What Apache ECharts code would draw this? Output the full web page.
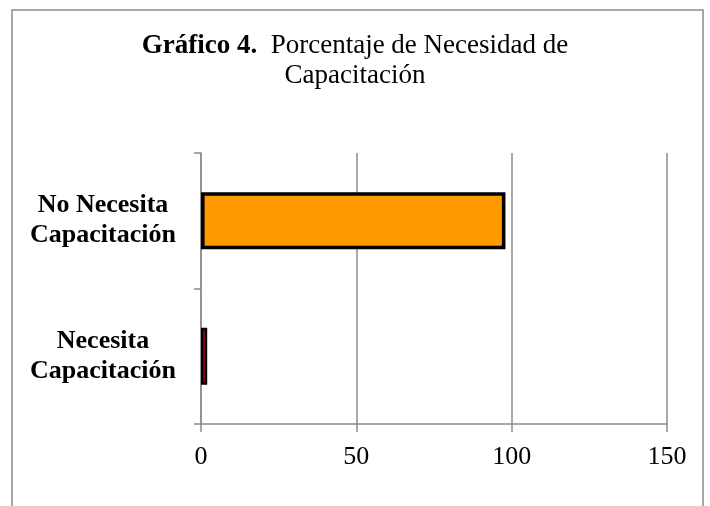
<!DOCTYPE html>
<html>
<head>
<meta charset="utf-8">
<script src="https://cdn.jsdelivr.net/npm/echarts@6/dist/echarts.min.js"></script>
<style>html,body{margin:0;padding:0;background:#fff}#c{width:710px;height:506px}</style>
</head>
<body>
<div id="c"></div>
<script>
var categories = ['Necesita\nCapacitación', 'No Necesita\nCapacitación'];
var values = [2, 98];
var barColors = ['#E8005E', '#FF9900'];
var xTicks = { min: 0, max: 150, interval: 50 };

var chart = echarts.init(document.getElementById('c'), null, { renderer: 'canvas' });
var serif = '"Liberation Serif", "Times New Roman", serif';
chart.setOption({
  backgroundColor: '#fff',
  animation: false,
  title: {
    text: '{b|Gráfico 4.}  Porcentaje de Necesidad de\nCapacitación',
    left: 350, top: 26, textAlign: 'center',
    textStyle: {
      fontFamily: serif, fontSize: 27, fontWeight: 'normal', color: '#000', lineHeight: 30,
      rich: { b: { fontFamily: serif, fontSize: 27, fontWeight: 'bold', color: '#000', lineHeight: 30 } }
    }
  },
  graphic: [{
    type: 'rect', shape: { x: 12, y: 10, width: 691, height: 520 }, z: -1,
    style: { fill: 'none', stroke: '#8c8c8c', lineWidth: 1.5 }
  }],
  grid: { left: 201, right: 43, top: 153, bottom: 82 },
  xAxis: {
    type: 'value', min: xTicks.min, max: xTicks.max, interval: xTicks.interval,
    axisLine: { show: true, lineStyle: { color: '#8c8c8c', width: 1.5 } },
    axisTick: { show: true, length: 8, lineStyle: { color: '#8c8c8c', width: 1.5 } },
    splitLine: { show: true, lineStyle: { color: '#8c8c8c', width: 1.5 } },
    axisLabel: { fontFamily: serif, fontSize: 26, color: '#000', margin: 20 }
  },
  yAxis: {
    type: 'category', data: categories,
    axisLine: { show: true, lineStyle: { color: '#8c8c8c', width: 1.5 } },
    axisTick: { show: true, length: 7, lineStyle: { color: '#8c8c8c', width: 1.5 } },
    axisLabel: { fontFamily: serif, fontSize: 26, fontWeight: 'bold', color: '#000', align: 'center', margin: 98, lineHeight: 30 }
  },
  series: [{
    type: 'bar', barWidth: 57,
    data: values.map(function (v, i) {
      return { value: v, itemStyle: { color: barColors[i], borderWidth: i === 0 ? 2.6 : 3.6 } };
    }),
    itemStyle: { borderColor: '#000', borderWidth: 3 }
  }]
});
</script>
</body>
</html>
